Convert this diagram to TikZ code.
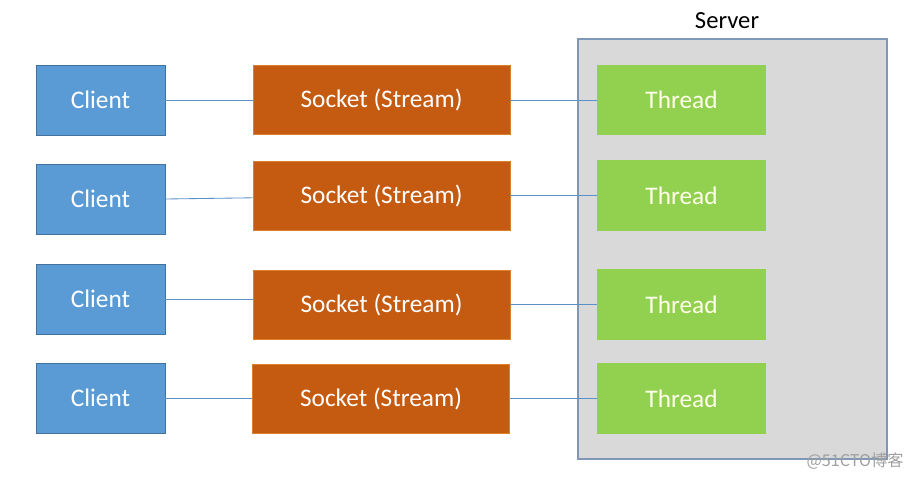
\documentclass[tikz,border=0pt]{standalone}
\usepackage{fontspec}
\setmainfont{Carlito}
\newfontfamily\cjkfont{Noto Sans CJK SC}
\definecolor{clientblue}{HTML}{5B9BD5}
\definecolor{clientedge}{HTML}{41719C}
\definecolor{socketorange}{HTML}{C55A11}
\definecolor{socketedge}{HTML}{D9822B}
\definecolor{threadgreen}{HTML}{92D050}
\definecolor{servergray}{HTML}{D9D9D9}
\definecolor{serveredge}{HTML}{7F98B8}
\definecolor{linkblue}{HTML}{5B8FC7}
\tikzset{
  box/.style={inner sep=0pt,font=\fontsize{18}{20}\selectfont,text=white},
  clientbox/.style={box,fill=clientblue,draw=clientedge,line width=.6pt,
    minimum width=3.225cm,minimum height=1.75cm},
  socketbox/.style={box,fill=socketorange,draw=socketedge,line width=.6pt,
    minimum width=6.425cm,minimum height=1.725cm},
  threadbox/.style={box,fill=threadgreen,text=white!92!yellow,
    minimum width=4.225cm,minimum height=1.75cm},
  link/.style={linkblue,line width=.6pt}
}
\begin{document}
\begin{tikzpicture}[x=.025cm,y=-.025cm]
        \useasboundingbox (0,0) rectangle (912,478);

        %% server
        \node[fill=servergray,draw=serveredge,line width=.8pt,inner sep=0pt,
          minimum width=7.725cm,minimum height=10.5cm] (server) at (732.5,249) {};
        \node at (727,21) [font=\fontsize{17.5}{20}\selectfont] (serverlabel) {Server};

        %% clients
        \node at (100.5,100) [clientbox] (c1) {Client};
        \node at (100.5,199) [clientbox] (c2) {Client};
        \node at (100.5,299) [clientbox] (c3) {Client};
        \node at (100.5,398) [clientbox] (c4) {Client};

        %% sockets
        \node at (381.5,100) [socketbox] (s1) {Socket (Stream)};
        \node at (381.5,195.5) [socketbox] (s2) {Socket (Stream)};
        \node at (381.5,304.5) [socketbox] (s3) {Socket (Stream)};
        \node at (381,398.5) [socketbox] (s4) {Socket (Stream)};

        %% threads
        \node at (681.5,100) [threadbox] (t1) {Thread};
        \node at (681.5,195.5) [threadbox] (t2) {Thread};
        \node at (681.5,304.5) [threadbox] (t3) {Thread};
        \node at (681.5,398.5) [threadbox] (t4) {Thread};

        %% links
        \draw[link] (c1.east) -- (s1.west);
        \draw[link] (c2.east) -- ([yshift=.03cm]c2.east -| s2.west);
        \draw[link] (c3.east) -- (c3.east -| s3.west);
        \draw[link] (c4.east) -- (c4.east -| s4.west);

        \draw[link] (s1.east) -- (t1.west);
        \draw[link] (s2.east) -- (t2.west);
        \draw[link] (s3.east) -- (t3.west);
        \draw[link] (s4.east) -- (t4.west);

        %% watermark
        \node at (855,461) [text=gray!75,font=\cjkfont\fontsize{11.5}{13}\selectfont] (mark) {@51CTO博客};
\end{tikzpicture}
\end{document}
